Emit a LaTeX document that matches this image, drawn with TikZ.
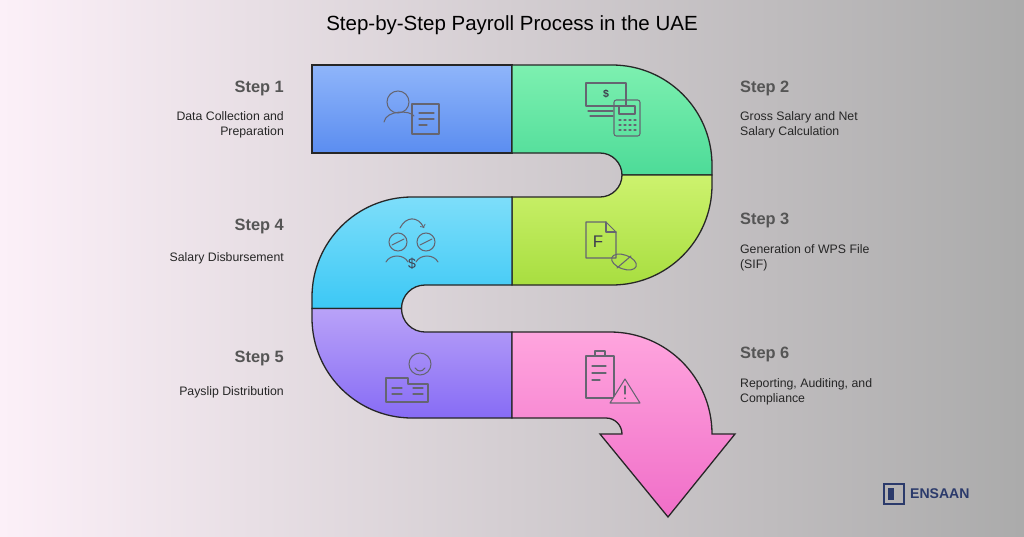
\documentclass[tikz,border=0pt]{standalone}
\usepackage{fontspec}
\setmainfont{Liberation Sans}
\definecolor{ink}{HTML}{3E3E4E}
\definecolor{headgrey}{HTML}{555555}
\definecolor{navy}{HTML}{2B3A6B}
\tikzset{
  band/.style={draw=black!85,line width=1.1pt},
  icon/.style={draw=ink!80,line width=0.9pt,line cap=round,line join=round},
  steptitle/.style={font=\bfseries\fontsize{14}{16}\selectfont,text=headgrey},
  stepdesc/.style={font=\fontsize{10.5}{13}\selectfont,text=black!85,align=#1},
}
\begin{document}
\begin{tikzpicture}[x=0.3mm,y=-0.3mm]
  % background
  \shade[left color={rgb,255:red,252;green,240;blue,248},right color=black!33] (0,0) rectangle (1024,536);
  \useasboundingbox (0,0) rectangle (1024,536);

  \node (title) at (512,25) {\fontsize{17.5}{20}\selectfont Step-by-Step Payroll Process in the UAE};

  % the snake
  \draw[band,top color={rgb,255:red,143;green,181;blue,250},bottom color={rgb,255:red,91;green,141;blue,240}]
    (312,65) rectangle (512,153);
  \draw[band,top color={rgb,255:red,125;green,240;blue,176},bottom color={rgb,255:red,77;green,219;blue,152}]
    (512,65) -- (612,65) arc[start angle=-90,end angle=0,radius=100] -- (712,175) -- (622,175)
    arc[start angle=0,end angle=-90,radius=22] -- (512,153) -- cycle;
  \draw[band,top color={rgb,255:red,205;green,242;blue,110},bottom color={rgb,255:red,168;green,222;blue,64}]
    (512,197) -- (600,197) arc[start angle=90,end angle=0,radius=22] -- (712,175) -- (712,185)
    arc[start angle=0,end angle=90,radius=100] -- (512,285) -- cycle;
  \draw[band,top color={rgb,255:red,125;green,222;blue,250},bottom color={rgb,255:red,60;green,200;blue,245}]
    (512,197) -- (412,197) arc[start angle=-90,end angle=-180,radius=100] -- (312,308.5) -- (401.5,308.5)
    arc[start angle=180,end angle=270,radius=23.5] -- (512,285) -- cycle;
  \draw[band,top color={rgb,255:red,185;green,162;blue,248},bottom color={rgb,255:red,135;green,108;blue,245}]
    (312,308.5) -- (312,318) arc[start angle=180,end angle=90,radius=100] -- (512,418) -- (512,332) -- (425,332)
    arc[start angle=90,end angle=180,radius=23.5] -- cycle;
  \draw[band,top color={rgb,255:red,255;green,165;blue,222},bottom color={rgb,255:red,240;green,110;blue,200}]
    (512,332) -- (610,332) arc[start angle=-90,end angle=0,radius=102] -- (735,434) -- (668,517) -- (600,434)
    -- (622,434) arc[start angle=0,end angle=-90,radius=16] -- (512,418) -- cycle;

  % icons
  \draw[icon] (398,102) circle[radius=11];
  \draw[icon] (384,122) .. controls (386,110) and (410,110) .. (414,116);
  \draw[icon] (412,104) rectangle (439,134);
  \foreach \yy/\ww in {113/15,119/15,125/8} \draw[icon] (419,\yy) -- ++(\ww,0);

  \draw[icon] (586,83) rectangle (626,106);
  \node[text=ink,font=\bfseries\small] (dollartop) at (606,94) {\$};
  \draw[icon] (588,111) -- (613,111) (590,116) -- (613,116);
  \draw[icon,rounded corners=2] (614,100) rectangle (640,136);
  \draw[icon] (619,106) rectangle (635,114);
  \foreach \yy in {120,125,130} \foreach \xx in {619,624,629,634} \draw[icon] (\xx,\yy) -- ++(2,0);

  \draw[icon] (586,222) -- (606,222) -- (616,232) -- (616,258) -- (586,258) -- cycle;
  \draw[icon] (606,222) -- (606,232) -- (616,232);
  \node[text=ink,font=\Large] (fletter) at (598,242) {F};
  \draw[icon,rotate around={-20:(624,262)}] (624,262) ellipse[x radius=13,y radius=7];
  \draw[icon] (617,268) -- (631,256);

  \draw[icon] (398,242) circle[radius=9] (426,242) circle[radius=9];
  \draw[icon] (392,245) -- (404,239) (420,245) -- (432,239);
  \draw[icon] (386,262) .. controls (390,254) and (404,254) .. (408,262);
  \draw[icon] (416,262) .. controls (420,254) and (434,254) .. (438,262);
  \draw[icon,->] (400,228) .. controls (406,216) and (418,216) .. (424,228);
  \node[text=ink,font=\large] (dollarmid) at (412,264) {\$};

  \draw[icon] (420,364) circle[radius=11];
  \draw[icon] (415,368) .. controls (418,372) and (422,372) .. (425,368);
  \draw[icon] (386,378) -- (386,402) -- (428,402) -- (428,384) -- (408,384) -- (408,378) -- cycle;
  \foreach \yy in {388,394} \draw[icon] (392,\yy) -- ++(10,0) (413,\yy) -- ++(10,0);

  \draw[icon] (586,356) rectangle (614,398);
  \draw[icon] (595,356) -- (595,351) -- (605,351) -- (605,356);
  \draw[icon] (592,366) -- (606,366) (592,373) -- (606,373) (592,380) -- (600,380);
  \draw[icon,fill={rgb,255:red,255;green,150;blue,215}] (625,379) -- (640,403) -- (610,403) -- cycle;
  \draw[icon] (625,386) -- (625,394) (625,398) -- (625,398.5);

  % texts
  \node[steptitle,anchor=east] (s1) at (288,88) {Step 1};
  \node[stepdesc=right,anchor=east] (d1) at (288,125) {Data Collection and\\Preparation};
  \node[steptitle,anchor=west] (s2) at (736,88) {Step 2};
  \node[stepdesc=left,anchor=west] (d2) at (736,125) {Gross Salary and Net\\Salary Calculation};
  \node[steptitle,anchor=west] (s3) at (736,220) {Step 3};
  \node[stepdesc=left,anchor=west] (d3) at (736,258) {Generation of WPS File\\(SIF)};
  \node[steptitle,anchor=east] (s4) at (288,226) {Step 4};
  \node[stepdesc=right,anchor=east] (d4) at (288,258) {Salary Disbursement};
  \node[steptitle,anchor=east] (s5) at (288,358) {Step 5};
  \node[stepdesc=right,anchor=east] (d5) at (288,392) {Payslip Distribution};
  \node[steptitle,anchor=west] (s6) at (736,354) {Step 6};
  \node[stepdesc=left,anchor=west] (d6) at (736,392) {Reporting, Auditing, and\\Compliance};

  % logo
  \draw[navy,line width=2pt] (884,484) rectangle (904,504);
  \fill[navy] (888,488) rectangle (894,500);
  \node[anchor=west,text=navy,font=\bfseries\fontsize{12}{14}\selectfont] (logo) at (906,494) {ENSAAN};
\end{tikzpicture}
\end{document}
